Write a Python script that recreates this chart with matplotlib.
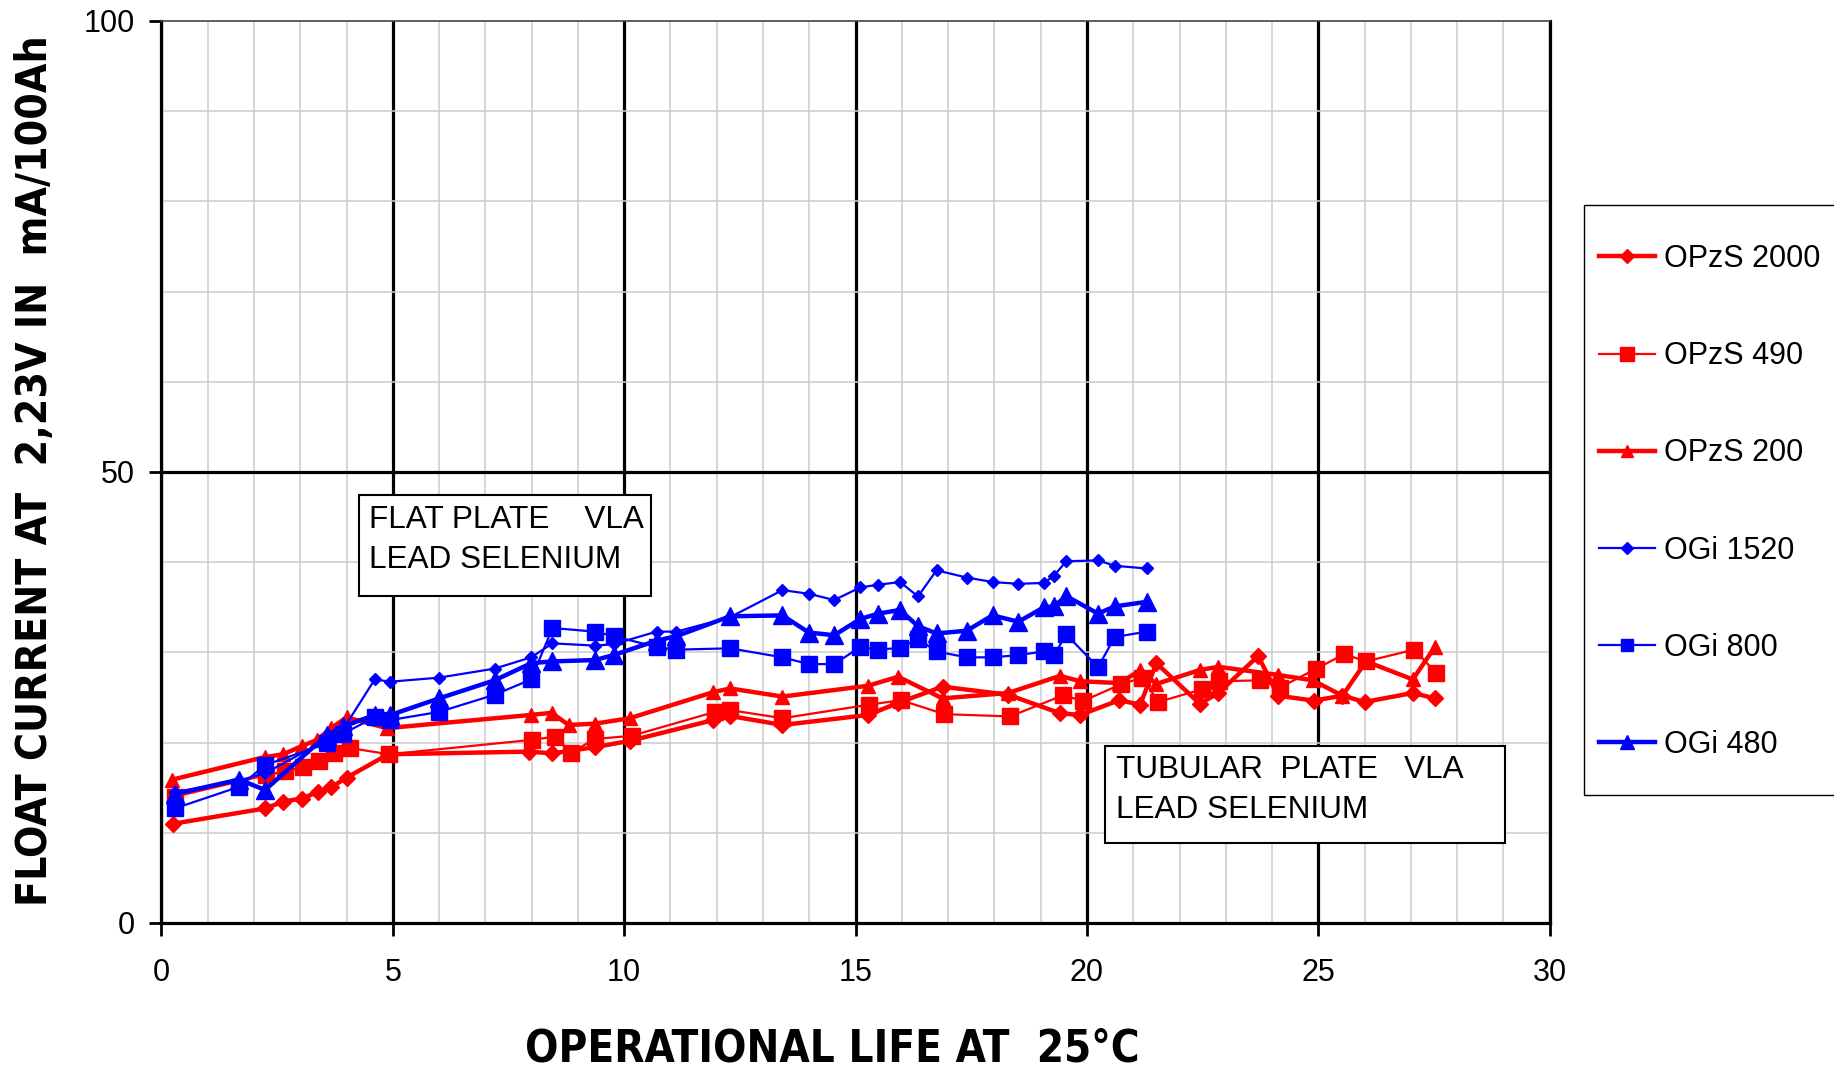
import matplotlib
matplotlib.use("Agg")
import matplotlib.pyplot as plt
from matplotlib import font_manager as fm
from matplotlib.patches import Rectangle
from matplotlib.ticker import MultipleLocator

plt.rcParams['font.family'] = ['Liberation Sans', 'DejaVu Sans']

# tubular plate series (red)
opzs2000_x = [0.25, 2.24, 2.63, 3.03, 3.38, 3.67, 4.0, 4.9, 7.95, 8.45, 9.37, 10.13, 11.93, 12.29,
              13.42, 15.27, 15.92, 16.88, 18.3, 19.42, 19.85, 20.7, 21.15, 21.5, 22.44, 22.84,
              23.7, 24.13, 24.9, 25.52, 26.0, 27.04, 27.52]
opzs2000_y = [11.0, 12.7, 13.45, 13.8, 14.5, 15.05, 16.1, 18.7, 19.0, 18.8, 19.5, 20.2, 22.5, 22.95,
              21.95, 23.06, 24.4, 26.2, 25.3, 23.25, 23.06, 24.7, 24.2, 28.8, 24.3, 25.5,
              29.6, 25.2, 24.65, 25.2, 24.5, 25.5, 24.9]

opzs490_x = [0.29, 2.27, 2.67, 3.07, 3.41, 3.72, 4.07, 4.92, 8.0, 8.5, 8.85, 9.37, 10.16, 11.96,
             12.29, 13.42, 15.29, 15.98, 16.92, 18.34, 19.49, 19.91, 20.73, 21.2, 21.54, 22.48,
             22.85, 23.75, 24.17, 24.96, 25.56, 26.03, 27.07, 27.54]
opzs490_y = [14.0, 16.4, 16.8, 17.3, 18.0, 18.85, 19.4, 18.7, 20.3, 20.65, 18.9, 20.4, 20.75, 23.4,
             23.6, 22.7, 24.2, 24.7, 23.15, 22.9, 25.25, 24.6, 26.45, 27.2, 24.5, 25.9,
             26.8, 26.9, 26.1, 28.2, 29.8, 29.0, 30.3, 27.75]

opzs200_x = [0.24, 2.24, 2.63, 3.03, 3.36, 3.67, 4.0, 4.87, 7.98, 8.43, 8.8, 9.37, 10.12, 11.93,
             12.29, 13.42, 15.27, 15.92, 16.88, 18.3, 19.42, 19.85, 20.7, 21.15, 21.5, 22.44,
             22.84, 24.13, 24.88, 25.52, 26.03, 27.04, 27.52]
opzs200_y = [15.9, 18.4, 18.7, 19.6, 20.3, 21.6, 22.8, 21.6, 23.06, 23.3, 21.95, 22.1, 22.7, 25.6,
             26.0, 25.1, 26.3, 27.3, 24.9, 25.5, 27.4, 26.8, 26.6, 28.0, 26.5, 28.05,
             28.4, 27.5, 26.9, 25.2, 29.0, 27.0, 30.6]

# flat plate series (blue), all measured on the same dates
ogi_x = [0.29, 1.68, 2.24, 3.57, 3.93, 4.61, 4.95, 6.0, 7.2, 7.99, 8.45, 9.37, 9.77, 10.7, 11.13,
         12.29, 13.42, 13.99, 14.54, 15.1, 15.49, 15.96, 16.35, 16.75, 17.4, 17.96, 18.52, 19.07,
         19.29, 19.55, 20.24, 20.6, 21.29]
ogi1520_y = [14.5, 15.8, 16.6, 20.3, 21.5, 27.0, 26.75, 27.2, 28.2, 29.45, 31.0, 30.75, 30.9, 32.3,
             32.3, 33.9, 36.9, 36.5, 35.8, 37.2, 37.5, 37.8, 36.2, 39.1, 38.3, 37.8, 37.6, 37.7,
             38.5, 40.1, 40.2, 39.6, 39.3]
ogi800_y = [12.7, 15.1, 17.5, 19.9, 21.0, 22.8, 22.5, 23.4, 25.3, 27.0, 32.7, 32.3, 31.8, 30.6,
            30.3, 30.45, 29.45, 28.7, 28.7, 30.6, 30.3, 30.5, 31.5, 30.1, 29.45, 29.45, 29.7, 30.1,
            29.7, 32.0, 28.35, 31.7, 32.3]
ogi480_y = [14.3, 15.9, 14.75, 20.8, 21.8, 23.06, 23.06, 24.9, 26.9, 28.8, 29.0, 29.15, 29.7, 31.3,
            31.8, 34.0, 34.1, 32.2, 31.9, 33.7, 34.3, 34.7, 32.9, 32.1, 32.4, 34.1, 33.4, 35.0,
            35.1, 36.25, 34.3, 35.1, 35.6]

series = [
    (opzs2000_x, opzs2000_y, 'OPzS 2000', 'red', 'D', 3.2, 8.3),
    (opzs490_x, opzs490_y, 'OPzS 490', 'red', 's', 1.6, 11.5),
    (opzs200_x, opzs200_y, 'OPzS 200', 'red', '^', 3.2, 10.5),
    (ogi_x, ogi1520_y, 'OGi 1520', 'blue', 'D', 1.6, 6.6),
    (ogi_x, ogi800_y, 'OGi 800', 'blue', 's', 1.6, 11.0),
    (ogi_x, ogi480_y, 'OGi 480', 'blue', '^', 3.2, 12.5),
]


def narrow_bold_font():
    # look for a condensed bold face, else plain bold Liberation Sans
    for f in fm.fontManager.ttflist:
        name = f.name.lower() + ' ' + f.fname.lower()
        weight = f.weight if isinstance(f.weight, int) else fm.weight_dict.get(f.weight, 400)
        if ('narrow' in name or 'condensed' in name) and weight >= 600:
            return fm.FontProperties(fname=f.fname)
    return fm.FontProperties(family='Liberation Sans', weight='bold')


fig = plt.figure(figsize=(18.34, 10.70), dpi=100)
ax = fig.add_axes([0.088, 0.1374, 0.757, 0.843])

for x, y, label, color, marker, lw, ms in series:
    ax.plot(x, y, color=color, marker=marker, lw=lw, ms=ms, label=label, zorder=3)

ax.set_xlim(0, 30)
ax.set_ylim(0, 100)
ax.xaxis.set_major_locator(MultipleLocator(5))
ax.xaxis.set_minor_locator(MultipleLocator(1))
ax.yaxis.set_major_locator(MultipleLocator(50))
ax.yaxis.set_minor_locator(MultipleLocator(10))

ax.set_axisbelow(True)
ax.grid(which='minor', color='#cccccc', lw=1.1)
ax.grid(which='major', axis='x', color='black', lw=2.3)
ax.axhline(50, color='black', lw=2.3, zorder=0.6)

ax.tick_params(which='minor', length=0)
ax.tick_params(axis='both', which='major', length=9, width=2, labelsize=22)
ax.tick_params(axis='x', pad=16)
ax.tick_params(axis='y', pad=10)

for side in ['left', 'bottom', 'right']:
    ax.spines[side].set_linewidth(2.3)
    ax.spines[side].set_color('black')
ax.spines['top'].set_linewidth(1.2)
ax.spines['top'].set_color('#444444')

# annotation boxes
ax.add_patch(Rectangle((4.27, 36.25), 6.31, 11.15, facecolor='white', edgecolor='black',
                       lw=1.5, zorder=5))
ax.text(4.49, 43.8, 'FLAT PLATE    VLA', fontsize=22.7, va='baseline', zorder=6)
ax.text(4.49, 39.36, 'LEAD SELENIUM', fontsize=22.7, va='baseline', zorder=6)

ax.add_patch(Rectangle((20.4, 8.86), 8.63, 10.79, facecolor='white', edgecolor='black',
                       lw=1.5, zorder=5))
ax.text(20.63, 16.04, 'TUBULAR  PLATE   VLA', fontsize=22.7, va='baseline', zorder=6)
ax.text(20.63, 11.6, 'LEAD SELENIUM', fontsize=22.7, va='baseline', zorder=6)

# axis titles, sized to the lengths they have in the original
title_font = narrow_bold_font()
ylab = fig.text(0.019, 0.56, 'FLOAT CURRENT AT  2,23V IN  mA/100Ah', rotation=90, ha='center',
                va='center', fontsize=35, fontproperties=title_font)
xlab = fig.text(0.454, 0.0196, 'OPERATIONAL LIFE AT  25°C', ha='center', va='center',
                fontsize=35, fontproperties=title_font)
renderer = fig.canvas.get_renderer()
ylen = ylab.get_window_extent(renderer).height
xlen = xlab.get_window_extent(renderer).width
ylab.set_fontsize(min(35, 35 * 871 / ylen))
xlab.set_fontsize(min(35, 35 * 614 / xlen))

# legend with its own frame, running off the right edge as in the original
fig.add_artist(Rectangle((1584 / 1834, 1 - 795 / 1070), 0.2, 590 / 1070, transform=fig.transFigure,
                         facecolor='white', edgecolor='black', lw=1.0, zorder=1))
handles, labels = ax.get_legend_handles_labels()
fig.legend(handles, labels, loc='upper left', bbox_to_anchor=(1599 / 1834, 1 - 244 / 1070),
           borderaxespad=0, borderpad=0, fontsize=22, labelspacing=2.2, handlelength=1.83,
           handletextpad=0.3, frameon=False, markerscale=0.85)

fig.savefig('out.png', dpi=100)
